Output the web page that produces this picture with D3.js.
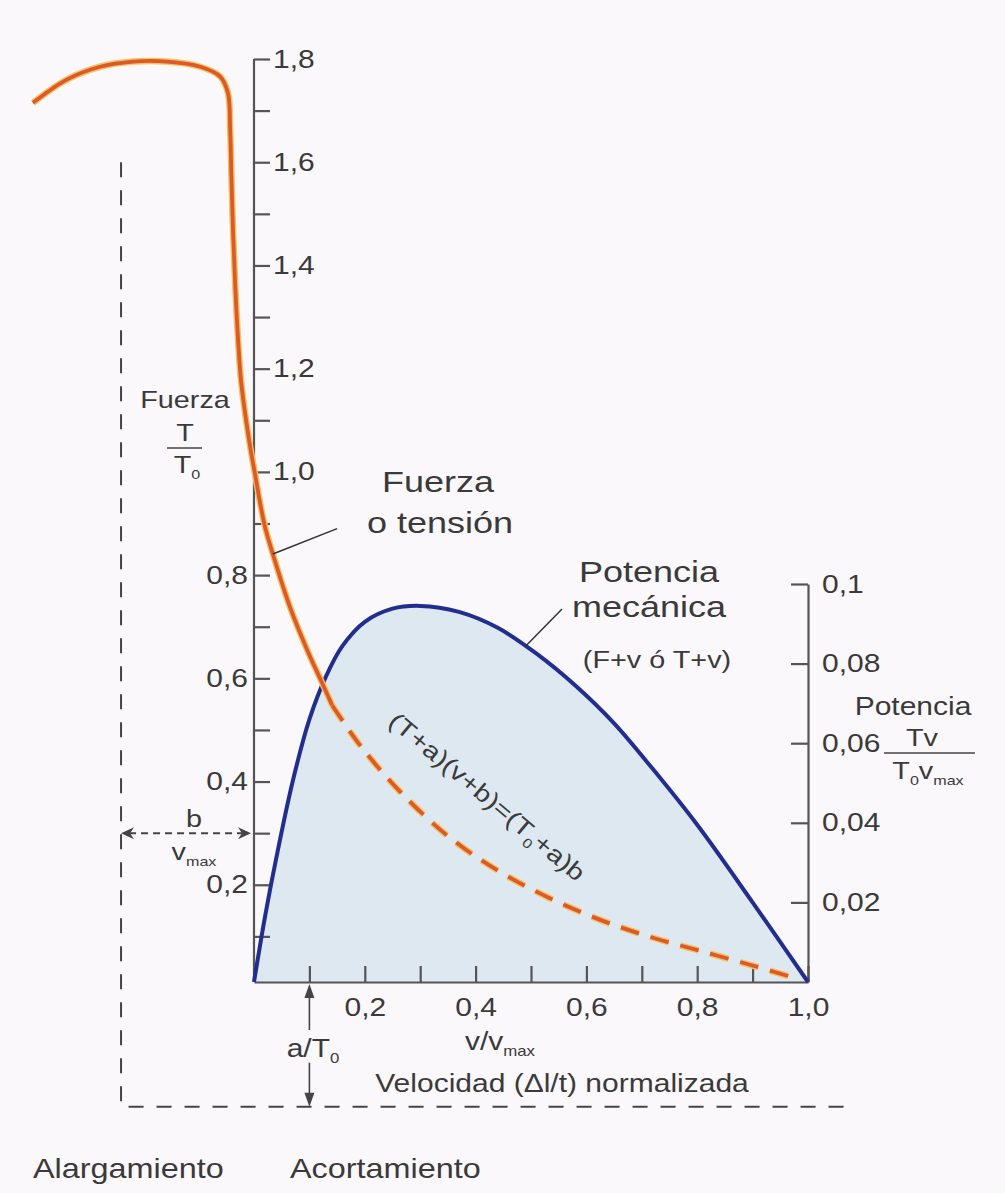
<!DOCTYPE html>
<html>
<head>
<meta charset="utf-8">
<script src="https://cdn.jsdelivr.net/npm/d3@7"></script>
<style>
body { margin: 0; background: #fbf8fb; }
svg { display: block; }
text { font-family: "Liberation Sans", Arial, sans-serif; fill: #3a3a3a; }
</style>
</head>
<body>
<svg id="chart" width="1005" height="1193"></svg>
<script>
// force-velocity curve (v/vmax, T/T0)
var forceV = [-0.399, -0.338, -0.278, -0.218, -0.157, -0.097, -0.061, -0.047, -0.043, -0.0406, -0.0379, -0.0343,
              -0.0298, -0.0235, -0.0144, -0.0054, 0.0018, 0.011, 0.020, 0.034, 0.065, 0.096, 0.123, 0.141,
              0.191, 0.264, 0.354, 0.444, 0.534, 0.625, 0.715, 0.805, 0.895, 0.971];
var forceT = [1.715, 1.760, 1.785, 1.795, 1.795, 1.785, 1.766, 1.734, 1.663, 1.566, 1.469, 1.372,
              1.275, 1.178, 1.101, 1.039, 0.996, 0.940, 0.893, 0.841, 0.738, 0.655, 0.591, 0.548,
              0.471, 0.380, 0.291, 0.225, 0.174, 0.132, 0.099, 0.072, 0.045, 0.021];
var solidUntil = 0.141;   // after this the curve is dashed

// mechanical power (v/vmax, Tv/T0vmax)
var powerV = [0, 0.02, 0.04, 0.07, 0.10, 0.13, 0.16, 0.20, 0.25, 0.30, 0.37, 0.44, 0.51, 0.58, 0.65, 0.72, 0.80, 0.90, 1.0];
var powerP = [0, 0.0165, 0.031, 0.0505, 0.066, 0.0768, 0.0845, 0.0905, 0.0938, 0.0945, 0.093, 0.089, 0.0825, 0.0745, 0.065, 0.0535, 0.0395, 0.020, 0];

var forceTicks = d3.range(1, 19).map(function(i){ return i / 10; });
var velTicks = d3.range(1, 11).map(function(i){ return i / 10; });
var powerTicks = [0.02, 0.04, 0.06, 0.08, 0.1];

// asymptotes of the hyperbola: T = -a, v = -b
var aT0 = 0.23, bV = 0.24;

var SX = 1.2;  // the original lettering is wide
var svg = d3.select('#chart');

var x = d3.scaleLinear().domain([0, 1]).range([254, 808]);
var yF = d3.scaleLinear().domain([0, 1.8]).range([988, 59]);
var yP = d3.scaleLinear().domain([0, 0.1]).range([982, 584]);

var es = d3.formatLocale({decimal: ",", thousands: ".", grouping: [3], currency: ["", "€"]});
var f1 = es.format(".1f"), f2 = es.format(".2~f");
function even(d){ return Math.round(d * 10) % 2 === 0; }

function txt(px, py, parts, size, anchor, parent) {
  var t = (parent || svg).append('text')
    .attr('transform', 'translate(' + px + ',' + py + ') scale(' + SX + ',1)')
    .attr('font-size', size)
    .attr('text-anchor', anchor || 'middle');
  if (typeof parts === 'string') parts = [parts];
  var shift = 0;
  parts.forEach(function(p){
    var sub = Array.isArray(p);
    var s = t.append('tspan').text(sub ? p[0] : p);
    if (sub) { s.attr('font-size', size * 0.56).attr('dy', size * 0.25); shift = size * 0.25; }
    else if (shift) { s.attr('dy', -shift); shift = 0; }
  });
  return t;
}

svg.append('rect').attr('width', 1005).attr('height', 1193).attr('fill', '#fbf8fb');

var power = powerV.map(function(v, i){ return {v: v, p: powerP[i]}; });
var force = forceV.map(function(v, i){ return {v: v, t: forceT[i]}; });
var pCurve = d3.curveCatmullRom.alpha(0.5);

svg.append('path').datum(power)
  .attr('d', d3.area().x(function(d){ return x(d.v); }).y0(yP(0)).y1(function(d){ return yP(d.p); }).curve(pCurve))
  .attr('fill', '#dde8f0');

// dashed asymptote frame
svg.append('path')
  .attr('d', d3.line()([[x(-bV), yF(1.6)], [x(-bV), yF(-aT0)], [x(1.07), yF(-aT0)]]))
  .attr('fill', 'none').attr('stroke', '#444').attr('stroke-width', 2).attr('stroke-dasharray', '15,13');

// axes
var gL = svg.append('g').attr('transform', 'translate(' + x(0) + ',0)').attr('color', '#555')
  .call(d3.axisRight(yF).tickValues(forceTicks).tickSize(16).tickSizeOuter(0).tickPadding(3)
    .tickFormat(function(d){ return even(d) ? f1(d) : ''; }));
gL.select('.domain').attr('d', 'M0,' + yP(0) + 'V' + yF(1.8));
gL.selectAll('.tick text').attr('font-size', 25)
  .attr('transform', 'scale(' + SX + ',1)')
  .attr('x', function(d){ return d < 0.95 ? -6 / SX : 19 / SX; })
  .attr('text-anchor', function(d){ return d < 0.95 ? 'end' : 'start'; });

var gX = svg.append('g').attr('transform', 'translate(0,' + yP(0) + ')').attr('color', '#555')
  .call(d3.axisBottom(x).tickValues(velTicks).tickSizeInner(-16).tickSizeOuter(0).tickPadding(16)
    .tickFormat(function(d){ return even(d) ? f1(d) : ''; }));
gX.selectAll('.tick text').attr('font-size', 25).attr('transform', 'scale(' + SX + ',1)');

var gR = svg.append('g').attr('transform', 'translate(' + x(1) + ',0)').attr('color', '#555')
  .call(d3.axisRight(yP).tickValues(powerTicks).tickSizeInner(-17).tickSizeOuter(0).tickPadding(12).tickFormat(f2));
gR.selectAll('.tick text').attr('font-size', 25).attr('transform', 'scale(' + SX + ',1)').attr('x', 14 / SX);

svg.selectAll('.domain, .tick line').attr('stroke-width', 2.2);

// power curve
svg.append('path').datum(power)
  .attr('d', d3.line().x(function(d){ return x(d.v); }).y(function(d){ return yP(d.p); }).curve(pCurve))
  .attr('fill', 'none').attr('stroke', '#222e8e').attr('stroke-width', 4);

// force curve, solid then dashed
var fLine = d3.line().x(function(d){ return x(d.v); }).y(function(d){ return yF(d.t); }).curve(d3.curveCatmullRom.alpha(0.5));
var parts = [
  {data: force.filter(function(d){ return d.v <= solidUntil; }), dash: null},
  {data: force.filter(function(d){ return d.v >= solidUntil; }), dash: '19,12'}
];
parts.forEach(function(p){
  svg.append('path').attr('d', fLine(p.data)).attr('fill', 'none')
    .attr('stroke', '#f3c35c').attr('stroke-width', 6.5).attr('stroke-dasharray', p.dash);
  svg.append('path').attr('d', fLine(p.data)).attr('fill', 'none')
    .attr('stroke', '#dc582d').attr('stroke-width', 3.8).attr('stroke-dasharray', p.dash);
});

// leader lines
svg.append('line').attr('x1', x(0.034)).attr('y1', yF(0.841)).attr('x2', x(0.150)).attr('y2', yF(0.890))
  .attr('stroke', '#333').attr('stroke-width', 1.5);
svg.append('line').attr('x1', x(0.491)).attr('y1', yP(0.0845)).attr('x2', x(0.556)).attr('y2', yP(0.0937))
  .attr('stroke', '#333').attr('stroke-width', 1.5);

// b / vmax arrow
var by = yF(0.3), bl = x(-bV), br = x(0) - 3;
svg.append('line').attr('x1', bl + 8).attr('y1', by).attr('x2', br - 8).attr('y2', by)
  .attr('stroke', '#444').attr('stroke-width', 2).attr('stroke-dasharray', '7,5');
svg.append('path').attr('d', 'M' + bl + ',' + by + 'l13,-6l-4,6l4,6z').attr('fill', '#444');
svg.append('path').attr('d', 'M' + br + ',' + by + 'l-13,-6l4,6l-4,6z').attr('fill', '#444');

// a / T0 arrow
var ax = x(0.1), aTop = yP(0) + 2, aBot = yF(-aT0);
svg.append('line').attr('x1', ax).attr('y1', aTop + 10).attr('x2', ax).attr('y2', aTop + 46)
  .attr('stroke', '#444').attr('stroke-width', 1.6);
svg.append('path').attr('d', 'M' + ax + ',' + aTop + 'l-5,14h10z').attr('fill', '#444');
svg.append('line').attr('x1', ax).attr('y1', aBot - 44).attr('x2', ax).attr('y2', aBot - 10)
  .attr('stroke', '#444').attr('stroke-width', 1.6);
svg.append('path').attr('d', 'M' + ax + ',' + aBot + 'l-5,-14h10z').attr('fill', '#444');

// labels
txt(185, 408, 'Fuerza', 24);
txt(185, 441, 'T', 24);
svg.append('line').attr('x1', 167).attr('x2', 202).attr('y1', 448).attr('y2', 448).attr('stroke', '#444').attr('stroke-width', 1.5);
txt(187, 473, ['T', ['0']], 24);

txt(438, 492, 'Fuerza', 30);
txt(440, 533, 'o tensión', 30);

txt(649, 582, 'Potencia', 30);
txt(649, 617, 'mecánica', 30);
txt(657, 668, '(F+v ó T+v)', 24);

txt(913, 715, 'Potencia', 25);
txt(922, 746, 'Tv', 24);
svg.append('line').attr('x1', 884).attr('x2', 975).attr('y1', 753).attr('y2', 753).attr('stroke', '#444').attr('stroke-width', 1.5);
txt(928, 779, ['T', ['0'], 'v', ['max']], 24);

txt(194, 827, 'b', 24);
txt(194, 860, ['v', ['max']], 24);

var eq = svg.append('g').attr('transform', 'translate(487,797) rotate(40)');
txt(0, 8, ['(T+a)(v+b)=(T', ['0'], '+a)b'], 24, 'middle', eq);

txt(313, 1057, ['a/T', ['0']], 25);
txt(500, 1050, ['v/v', ['max']], 25);
txt(562, 1092, 'Velocidad (Δl/t) normalizada', 25);

txt(33, 1178, 'Alargamiento', 27, 'start');
txt(290, 1178, 'Acortamiento', 27, 'start');
</script>
</body>
</html>
